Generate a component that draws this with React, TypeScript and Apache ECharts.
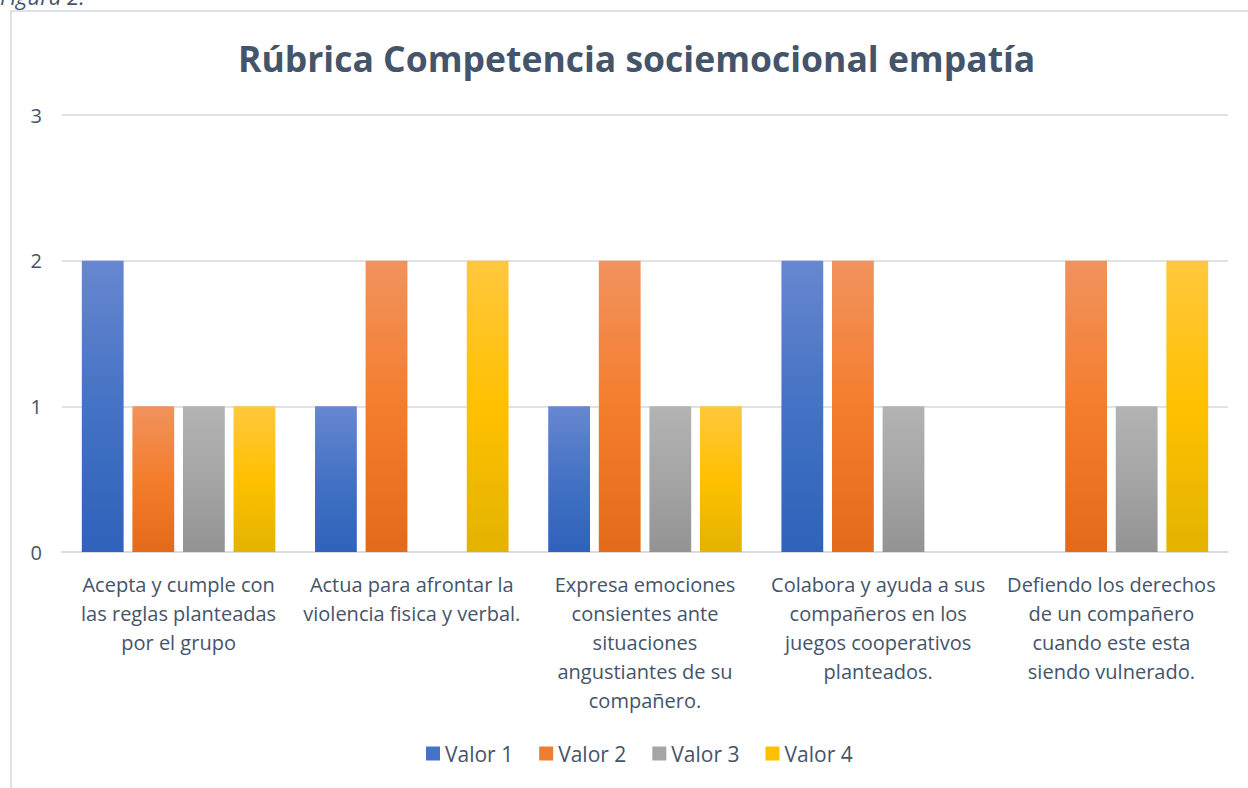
import React, { useEffect, useRef } from "react";
import * as echarts from "echarts";

const categories = [
  "Acepta y cumple con\nlas reglas planteadas\npor el grupo",
  "Actua para afrontar la\nviolencia fisica y verbal.",
  "Expresa emociones\nconsientes ante\nsituaciones\nangustiantes de su\ncompañero.",
  "Colabora y ayuda a sus\ncompañeros en los\njuegos cooperativos\nplanteados.",
  "Defiendo los derechos\nde un compañero\ncuando este esta\nsiendo vulnerado.",
];
const seriesNames = ["Valor 1", "Valor 2", "Valor 3", "Valor 4"];
const valor1 = [2, 1, 1, 2, 0];
const valor2 = [1, 2, 2, 2, 2];
const valor3 = [1, 0, 1, 1, 1];
const valor4 = [1, 2, 1, 0, 2];
const yTicks = [0, 1, 2, 3];

const gradients = [
  ["#6787D0", "#4472C4", "#2F62BA"],
  ["#F1925E", "#F47D2C", "#E36A18"],
  ["#B3B3B3", "#A5A5A5", "#939393"],
  ["#FFC83D", "#FFC000", "#E3B300"],
];
const legendColors = ["#4472C4", "#ED7D31", "#A5A5A5", "#FFC000"];

const FONT = "'Open Sans', 'Noto Sans', sans-serif";
const TEXT = "#44546A";

export default function App() {
  const ref = useRef<HTMLDivElement>(null);
  useEffect(() => {
    document.body.style.margin = "0";
    const chart = echarts.init(ref.current!, null, { renderer: "svg" });
    const data = [valor1, valor2, valor3, valor4];
    chart.setOption({
      animation: false,
      backgroundColor: "#ffffff",
      textStyle: { fontFamily: FONT },
      title: {
        text: "Rúbrica Competencia sociemocional empatía",
        left: 233,
        top: 35,
        textStyle: { fontFamily: FONT, fontSize: 35.5, fontWeight: "bold", color: TEXT },
      },
      graphic: [
        {
          type: "rect",
          shape: { x: 11, y: 11, width: 1250, height: 800 },
          style: { fill: "none", stroke: "#DDE2EA", lineWidth: 2 },
          silent: true,
        },
        {
          type: "text",
          x: 0,
          y: -15,
          style: { text: "Figura 2.", font: `italic 22px ${FONT}`, fill: TEXT },
        },
      ],
      legend: {
        bottom: 19,
        left: 421,
        itemWidth: 14,
        itemHeight: 14,
        itemGap: 26,
        icon: "rect",
        textStyle: { fontFamily: FONT, fontSize: 21, color: TEXT, padding: [0, 0, 0, 0] },
        data: seriesNames.map((n, i) => ({ name: n, itemStyle: { color: legendColors[i] } })),
      },
      grid: { left: 62, right: 20, top: 115, bottom: 236 },
      xAxis: {
        type: "category",
        data: categories,
        axisLine: { show: true, lineStyle: { color: "#D9D9D9", width: 1.5 } },
        axisTick: { show: false },
        axisLabel: {
          interval: 0,
          fontFamily: FONT,
          fontSize: 20,
          color: TEXT,
          lineHeight: 29,
          margin: 18,
        },
      },
      yAxis: {
        type: "value",
        min: yTicks[0],
        max: yTicks[yTicks.length - 1],
        interval: 1,
        axisLine: { show: false },
        axisTick: { show: false },
        splitLine: { lineStyle: { color: "#D9D9D9", width: 1.5 } },
        axisLabel: { fontFamily: FONT, fontSize: 20, color: TEXT, margin: 20 },
      },
      series: seriesNames.map((name, i) => ({
        name,
        type: "bar",
        data: data[i],
        barGap: "21%",
        barCategoryGap: "17%",
        itemStyle: {
          color: new echarts.graphic.LinearGradient(0, 0, 0, 1, [
            { offset: 0, color: gradients[i][0] },
            { offset: 0.5, color: gradients[i][1] },
            { offset: 1, color: gradients[i][2] },
          ]),
        },
      })),
    });
    return () => chart.dispose();
  }, []);
  return <div ref={ref} style={{ width: 1248, height: 788 }} />;
}
